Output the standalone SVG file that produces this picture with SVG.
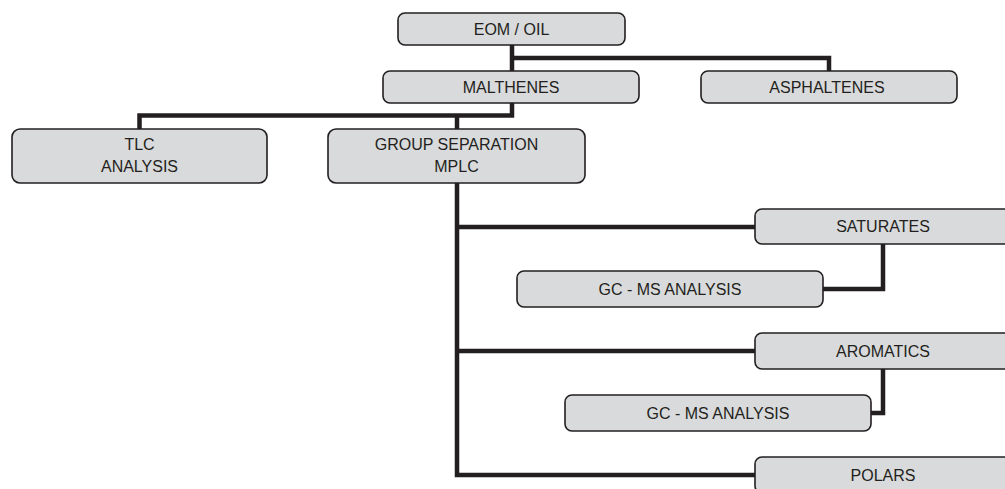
<svg xmlns="http://www.w3.org/2000/svg" width="1005" height="489" viewBox="0 0 1005 489">
<style>
.box{fill:#d9dadb;stroke:#231f20;stroke-width:1.6}
.lbl{font-family:"Liberation Sans",Arial,sans-serif;font-size:16px;fill:#231f20;text-anchor:middle}
.con{fill:none;stroke:#231f20;stroke-width:4.5;stroke-linejoin:miter;stroke-linecap:butt}
</style>
<rect width="1005" height="489" fill="#ffffff"/>
<g id="connectors">
<path class="con" d="M512,45 V71"/>
<path class="con" d="M512,58 H829 V71"/>
<path class="con" d="M512,103 V115.5 M139.5,129 V115.5 H514.2"/>
<path class="con" d="M457,115.5 V129"/>
<path class="con" d="M457,183 V475 H755"/>
<path class="con" d="M457,227 H755"/>
<path class="con" d="M457,351 H755"/>
<path class="con" d="M883,244 V289 H823"/>
<path class="con" d="M883,369 V413 H871"/>
</g>
<g id="eom"><rect class="box" x="398" y="13" width="227" height="32" rx="7"/><text class="lbl" x="511.5" y="34.5">EOM / OIL</text></g>
<g id="malthenes"><rect class="box" x="383" y="71" width="256" height="32" rx="7"/><text class="lbl" x="511" y="92.5">MALTHENES</text></g>
<g id="asphaltenes"><rect class="box" x="701" y="71" width="256" height="32" rx="7"/><text class="lbl" x="827" y="92.5">ASPHALTENES</text></g>
<g id="tlc"><rect class="box" x="12" y="129" width="255" height="54" rx="8"/><text class="lbl" x="139.5" y="150">TLC</text><text class="lbl" x="139.5" y="172">ANALYSIS</text></g>
<g id="group"><rect class="box" x="328" y="129" width="257" height="54" rx="8"/><text class="lbl" x="456.5" y="150">GROUP SEPARATION</text><text class="lbl" x="456.5" y="172">MPLC</text></g>
<g id="saturates"><rect class="box" x="755" y="209" width="256" height="35" rx="7"/><text class="lbl" x="883" y="232">SATURATES</text></g>
<g id="gcms1"><rect class="box" x="517" y="271" width="306" height="36" rx="7"/><text class="lbl" x="670" y="294.5">GC - MS ANALYSIS</text></g>
<g id="aromatics"><rect class="box" x="755" y="333" width="256" height="36" rx="7"/><text class="lbl" x="883" y="356.5">AROMATICS</text></g>
<g id="gcms2"><rect class="box" x="565" y="395" width="306" height="36" rx="7"/><text class="lbl" x="718" y="418.5">GC - MS ANALYSIS</text></g>
<g id="polars"><rect class="box" x="755" y="457" width="256" height="36" rx="7"/><text class="lbl" x="883" y="480.5">POLARS</text></g>
</svg>
